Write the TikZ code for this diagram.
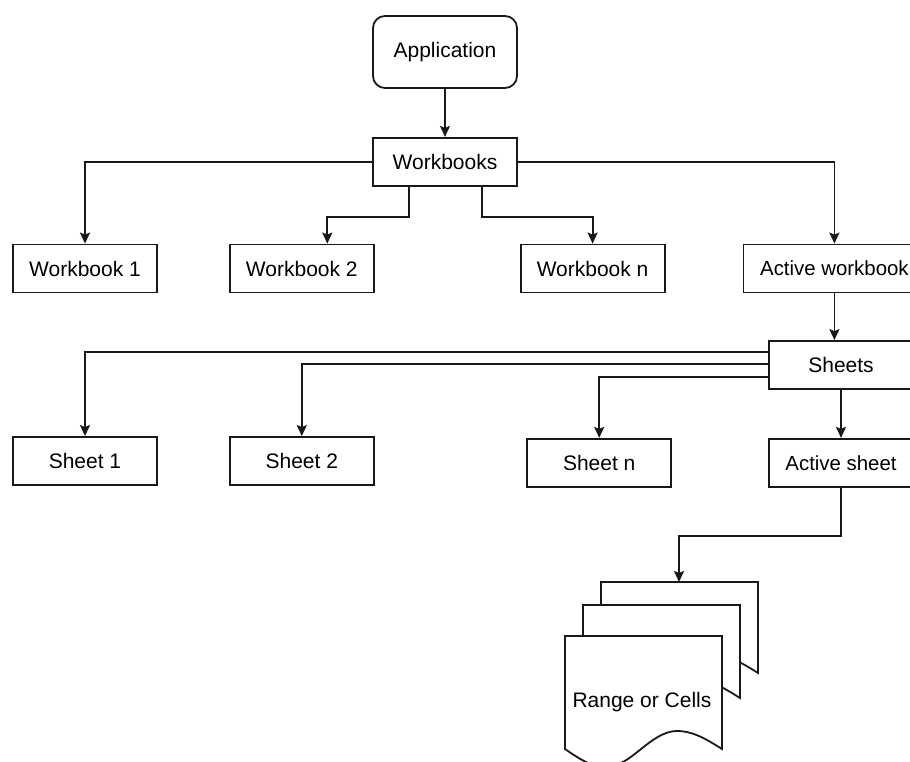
\documentclass[tikz,border=0pt]{standalone}
\usepackage{fontspec}
\setmainfont{Liberation Sans}
\usepackage{tikz}
\usetikzlibrary{arrows.meta, positioning}
\tikzstyle{object}=[rectangle, draw=black!90, line width=1.8pt, fill=white, minimum width=144pt, minimum height=48pt, inner sep=0pt, font=\fontsize{21}{25}\selectfont]
\tikzstyle{active}=[object, font=\fontsize{20.4}{24}\selectfont]
\tikzstyle{link}=[draw=black!90, line width=1.8pt, -{Stealth[length=11pt, width=10pt, inset=2pt]}]
\tikzstyle{pre}=[draw=black!90, line width=1.8pt, {Stealth[length=11pt, width=10pt, inset=2pt]}-]
\tikzstyle{doc}=[draw=black!90, line width=1.8pt, fill=white, line join=miter]

\begin{document}
\begin{tikzpicture}[x=1pt, y=-1pt]
          \path[use as bounding box, fill=white] (0,0) rectangle (910,762);
          \node[object, rounded corners=12pt, minimum height=72pt] (app) at (445,52) {Application};
          \node[object] (wbs) [below=48pt of app] {Workbooks}
                edge [pre] (app);

          % workbooks row
          \node[object] (wb1) at (85,268.5) {Workbook 1};
          \node[object] (wb2) [right=71pt of wb1] {Workbook 2};
          \node[object] (wbn) [right=145pt of wb2] {Workbook n};
          \node[active, minimum width=182pt] (wba) [right=77pt of wbn] {Active workbook};

          \draw[link] (wbs.west) -| (wb1.north);
          \draw[link] ([xshift=-36pt]wbs.south) -- ++(0,30) -| ([xshift=25.5pt]wb2.north);
          \draw[link] ([xshift=37pt]wbs.south) -- ++(0,30) -| (wbn.north);
          \draw[link] (wbs.east) -| (wba.north);

          % sheets row
          \node[object] (sh) at (841,365) {Sheets};
          \draw[link] (wba.south) -- (wba.south |- sh.north);

          \node[active] (sha) [below=48pt of sh] {Active sheet}
                edge [pre] (sh);
          \node[object] (sh1) at (85,461) {Sheet 1};
          \node[object] (sh2) [right=71pt of sh1] {Sheet 2};
          \node[object] (shn) [left=96pt of sha] {Sheet n};

          \draw[link] ([yshift=13pt]sh.west) -| (sh1.north);
          \draw[link] ([yshift=1pt]sh.west) -| (sh2.north);
          \draw[link] ([yshift=-12pt]sh.west) -| (shn.north);

          % range or cells (multiple documents)
          \draw[doc] (601,673) -- (601,582) -- (758,582) -- (758,673) sin (713,655) cos (677,673) sin (642,691) cos (601,673) -- cycle;
          \draw[doc] (583,698) -- (583,605) -- (740,605) -- (740,698) sin (695,680) cos (659,698) sin (624,716) cos (583,698) -- cycle;
          \draw[doc] (565,749) -- (565,636) -- (722,636) -- (722,749) sin (677,731) cos (641,749) sin (606,767) cos (565,749) -- cycle;
          \node[font=\fontsize{21}{25}\selectfont] (rc) at (642,702) {Range or Cells};
          \coordinate (rctop) at (679,582);

          \draw[link] (sha.south) -- ++(0,48) -| (rctop);
\end{tikzpicture}
\end{document}
